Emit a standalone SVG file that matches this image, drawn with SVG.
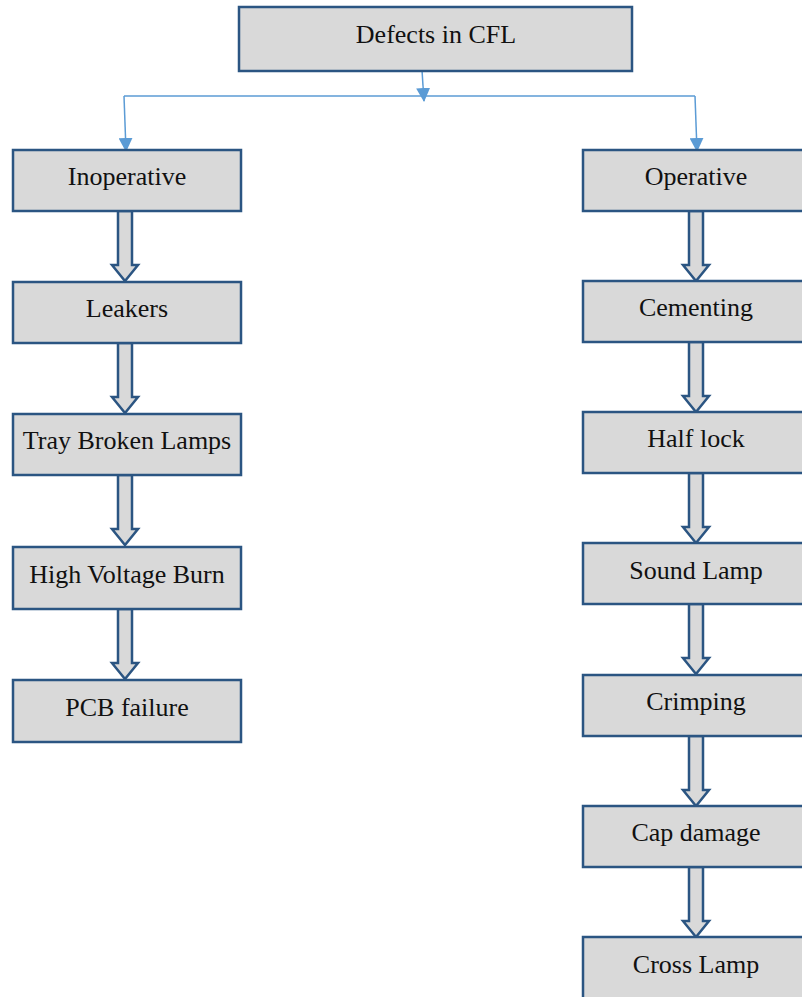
<svg xmlns="http://www.w3.org/2000/svg" width="802" height="997" viewBox="0 0 802 997">
  <defs>
    <style>
      .box { fill: #d9d9d9; stroke: #2b5582; stroke-width: 2.5; }
      .lbl { font-family: "Liberation Serif", "Times New Roman", serif; font-size: 26px; fill: #111; text-anchor: middle; }
      .link { stroke: #5b9bd5; stroke-width: 1.5; fill: none; }
      .blk { fill: #d9d9d9; stroke: #2b5582; stroke-width: 2.5; stroke-linejoin: miter; }
    </style>
    <marker id="tip" viewBox="0 0 14 14" refX="13" refY="7" markerWidth="14" markerHeight="14" markerUnits="userSpaceOnUse" orient="auto">
      <path d="M0,0 L14,7 L0,14 Z" fill="#5b9bd5"/>
    </marker>
    <!-- down-pointing block arrow, origin at shaft top centre -->
    <path id="down" d="M-7,0 L7,0 L7,54 L13,54 L0,70 L-13,54 L-7,54 Z"/>
  </defs>
  <rect width="802" height="997" fill="#fff"/>

  <g id="connectors">
    <line class="link" x1="422" y1="70" x2="424" y2="101" marker-end="url(#tip)"/>
    <line class="link" x1="124" y1="96" x2="695" y2="96"/>
    <line class="link" x1="124" y1="96" x2="126" y2="151" marker-end="url(#tip)"/>
    <line class="link" x1="695" y1="96" x2="697" y2="151" marker-end="url(#tip)"/>
    <use href="#down" class="blk" x="125" y="211"/>
    <use href="#down" class="blk" x="125" y="343"/>
    <use href="#down" class="blk" x="125" y="475"/>
    <use href="#down" class="blk" x="125" y="609"/>
    <use href="#down" class="blk" x="696" y="211"/>
    <use href="#down" class="blk" x="696" y="342"/>
    <use href="#down" class="blk" x="696" y="473"/>
    <use href="#down" class="blk" x="696" y="604"/>
    <use href="#down" class="blk" x="696" y="736"/>
    <use href="#down" class="blk" x="696" y="867"/>
  </g>

  <g id="root"><rect class="box" x="239" y="7" width="393" height="64"/><text class="lbl" x="436" y="43">Defects in CFL</text></g>

  <g id="inoperative"><rect class="box" x="13" y="150" width="228" height="61"/><text class="lbl" x="127" y="185">Inoperative</text></g>
  <g id="leakers"><rect class="box" x="13" y="282" width="228" height="61"/><text class="lbl" x="127" y="317">Leakers</text></g>
  <g id="tray-broken"><rect class="box" x="13" y="414" width="228" height="61"/><text class="lbl" x="127" y="449">Tray Broken Lamps</text></g>
  <g id="hv-burn"><rect class="box" x="13" y="547" width="228" height="62"/><text class="lbl" x="127" y="583">High Voltage Burn</text></g>
  <g id="pcb"><rect class="box" x="13" y="680" width="228" height="62"/><text class="lbl" x="127" y="716">PCB failure</text></g>

  <g id="operative"><rect class="box" x="583" y="150" width="226" height="61"/><text class="lbl" x="696" y="185">Operative</text></g>
  <g id="cementing"><rect class="box" x="583" y="281" width="226" height="61"/><text class="lbl" x="696" y="316">Cementing</text></g>
  <g id="half-lock"><rect class="box" x="583" y="412" width="226" height="61"/><text class="lbl" x="696" y="447">Half lock</text></g>
  <g id="sound-lamp"><rect class="box" x="583" y="543" width="226" height="61"/><text class="lbl" x="696" y="579">Sound Lamp</text></g>
  <g id="crimping"><rect class="box" x="583" y="675" width="226" height="61"/><text class="lbl" x="696" y="710">Crimping</text></g>
  <g id="cap-damage"><rect class="box" x="583" y="806" width="226" height="61"/><text class="lbl" x="696" y="841">Cap damage</text></g>
  <g id="cross-lamp"><rect class="box" x="583" y="937" width="226" height="64"/><text class="lbl" x="696" y="973">Cross Lamp</text></g>
</svg>
